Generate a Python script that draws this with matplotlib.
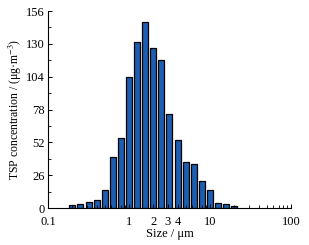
import matplotlib
matplotlib.use("Agg")
import matplotlib.pyplot as plt
import numpy as np

# Data
sizes = [0.2, 0.25, 0.32, 0.4, 0.5, 0.63, 0.79, 1.0, 1.26, 1.58, 2.0,
         2.51, 3.16, 3.98, 5.01, 6.31, 7.94, 10.0, 12.6, 15.8, 20.0]
conc = [2.0, 3.4, 4.4, 6.3, 14.4, 40.2, 55.2, 103.7, 131.8, 147.0, 126.5,
        117.0, 74.8, 53.8, 36.2, 34.7, 21.0, 14.4, 3.9, 3.2, 1.8]
yticks = [0, 26, 52, 78, 104, 130, 156]
xticks = [0.1, 1, 2, 3, 4, 10, 100]
xticklabels = ["0.1", "1", "2", "3", "4", "10", "100"]

plt.rcParams['font.family'] = ['Liberation Serif', 'DejaVu Serif']
plt.rcParams['mathtext.fontset'] = 'stix'

fig = plt.figure(figsize=(3.09, 2.45), dpi=100)
ax = fig.add_axes([0.155, 0.151, 0.787, 0.804])

half = 0.037  # half bar width in decades
x = np.array(sizes)
left = x * 10 ** (-half)
right = x * 10 ** (half)
ax.bar(left, conc, width=right - left, align='edge', color='#1c5eb2',
       edgecolor='black', linewidth=0.9)

ax.set_xscale('log')
ax.set_xlim(0.1, 100)
ax.set_ylim(0, 156)
ax.set_yticks(yticks)
ax.set_yticks([13, 39, 65, 91, 117, 143], minor=True)
ax.set_xticks(xticks)
ax.set_xticklabels(xticklabels)

for s in ['top', 'right']:
    ax.spines[s].set_visible(False)
for s in ['left', 'bottom']:
    ax.spines[s].set_linewidth(0.8)

ax.tick_params(axis='both', which='major', direction='in', length=3,
               width=0.7, labelsize=9)
ax.tick_params(axis='y', which='major', pad=2)
ax.tick_params(axis='x', which='major', pad=5.5)
ax.tick_params(axis='both', which='minor', direction='in', length=2,
               width=0.6)
ax.xaxis.set_minor_formatter(matplotlib.ticker.NullFormatter())

ax.set_xlabel('Size / μm', fontsize=9, labelpad=0)
ax.set_ylabel('TSP concentration / (μg·m$^{-3}$)', fontsize=8.5, labelpad=2)

fig.savefig('out.png', dpi=100)
